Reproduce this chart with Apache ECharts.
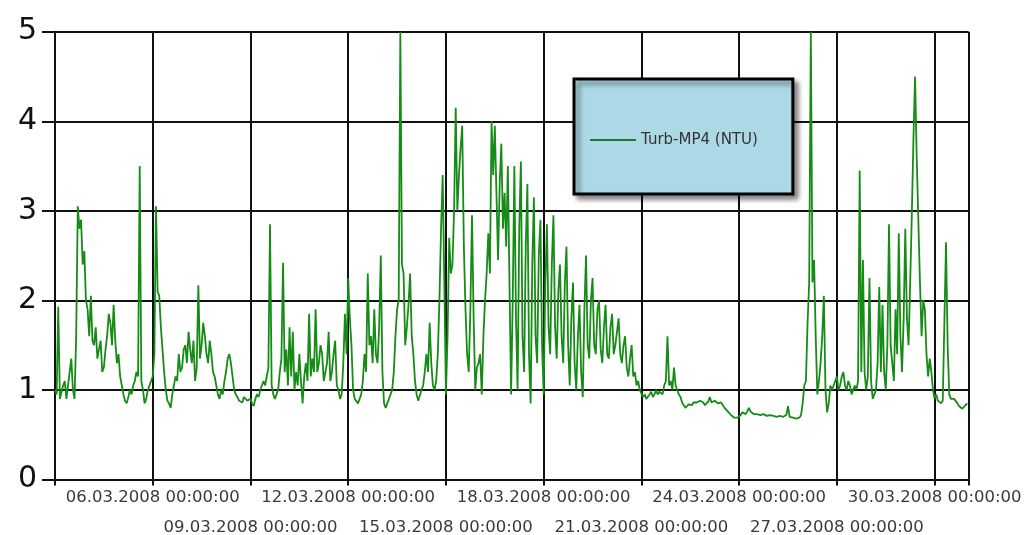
<!DOCTYPE html>
<html>
<head>
<meta charset="utf-8">
<title>Turb-MP4 (NTU)</title>
<script src="https://cdn.jsdelivr.net/npm/echarts@6/dist/echarts.min.js"></script>
<style>
  html, body { margin: 0; padding: 0; background: #ffffff; }
  #chart { width: 1025px; height: 535px; }
</style>
</head>
<body>
<div id="chart"></div>
<script>
// Turbidity at MP4, one reading every 0.05 day (1 h 12 min) starting 03.03.2008 00:00:00
const seriesName = 'Turb-MP4 (NTU)';
const stepDays = 0.05;
const turbidity = [
  1.00,0.95,1.93,0.90,0.89,1.05,1.10,0.90,0.88,1.20,1.35,1.00,0.90,1.60,3.05,2.80,2.90,2.40,2.55,2.00,   // 03.03
  1.90,1.60,2.05,1.55,1.50,1.70,1.35,1.45,1.55,1.20,1.25,1.45,1.60,1.85,1.75,1.50,1.95,1.55,1.30,1.40,   // 04.03
  1.15,1.05,0.95,0.88,0.85,0.92,1.00,0.95,1.05,1.10,1.20,1.15,3.50,1.10,1.00,0.85,0.90,1.00,1.05,1.10,   // 05.03
  1.15,1.40,3.05,2.10,2.05,1.70,1.45,1.20,1.00,0.88,0.85,0.80,0.95,1.05,1.15,1.10,1.40,1.20,1.25,1.45,   // 06.03
  1.50,1.30,1.65,1.45,1.30,1.55,1.10,1.25,2.17,1.35,1.50,1.75,1.60,1.40,1.30,1.55,1.40,1.20,1.15,1.05,   // 07.03
  0.95,0.90,1.00,0.95,1.10,1.20,1.35,1.40,1.30,1.15,1.00,0.95,0.92,0.88,0.90,0.86,0.92,0.90,0.88,0.86,   // 08.03
  0.90,0.85,0.82,0.90,0.95,0.92,1.00,1.05,1.10,1.05,1.15,1.25,2.85,1.05,0.95,0.90,0.92,1.00,1.20,1.35,   // 09.03
  2.42,1.20,1.45,1.05,1.70,1.15,1.65,1.00,1.20,1.05,1.40,1.10,0.85,1.15,1.30,1.10,1.85,1.15,1.35,1.20,   // 10.03
  1.90,1.20,1.30,1.50,1.40,1.10,1.20,1.30,1.65,1.10,1.20,1.40,1.55,1.05,1.00,0.90,0.95,1.30,1.85,1.40,   // 11.03
  2.25,1.80,1.50,1.00,0.90,0.88,0.85,0.90,0.95,1.10,1.40,1.20,2.30,1.50,1.60,1.30,1.90,1.40,1.30,1.70,   // 12.03
  2.50,1.20,0.85,0.80,0.78,0.90,0.95,1.00,1.20,1.60,1.90,2.00,5.00,2.40,2.30,1.50,1.70,1.95,2.30,1.60,   // 13.03
  1.40,1.10,0.95,0.88,0.90,1.00,1.05,1.20,1.40,1.20,1.75,1.30,1.05,1.00,1.10,1.40,2.00,2.80,3.40,2.20,   // 14.03
  0.95,1.60,2.70,2.30,2.40,3.00,4.15,3.00,3.40,3.70,3.95,2.60,1.90,1.40,1.20,1.90,2.95,1.80,1.00,1.25,   // 15.03
  1.30,1.40,0.95,1.60,2.00,2.30,2.75,2.30,4.00,3.40,3.95,3.20,2.45,3.30,3.75,2.80,3.20,2.60,3.50,2.20,   // 16.03
  0.95,2.00,3.50,1.80,1.00,2.80,3.55,1.60,1.20,2.60,3.30,1.40,0.85,2.40,3.15,1.60,1.30,2.50,2.90,1.50,   // 17.03
  0.95,2.20,2.85,1.70,1.40,2.40,2.95,1.70,1.35,2.10,2.40,1.60,1.30,2.20,2.60,1.50,1.05,1.80,2.20,1.30,   // 18.03
  1.00,1.60,1.95,1.20,0.92,1.90,2.50,1.50,1.35,2.00,2.25,1.50,1.40,1.90,2.00,1.45,1.30,1.70,1.95,1.40,   // 19.03
  1.35,1.70,1.85,1.40,1.50,1.65,1.80,1.40,1.30,1.50,1.60,1.25,1.15,1.35,1.50,1.15,1.20,1.05,1.10,1.00,   // 20.03
  1.00,0.92,0.95,0.90,0.90,0.95,0.98,0.92,0.95,1.00,0.95,0.98,1.00,0.95,1.05,1.10,1.60,1.05,1.10,1.00,   // 21.03
  1.25,1.05,1.00,0.95,0.92,0.86,0.83,0.80,0.82,0.84,0.85,0.83,0.86,0.88,0.86,0.84,0.88,0.90,0.86,0.83,   // 22.03
  0.84,0.87,0.92,0.86,0.86,0.88,0.87,0.85,0.85,0.86,0.84,0.80,0.78,0.76,0.75,0.72,0.70,0.69,0.68,0.69,   // 23.03
  0.70,0.72,0.75,0.74,0.73,0.76,0.80,0.76,0.75,0.73,0.74,0.73,0.73,0.72,0.72,0.73,0.72,0.71,0.71,0.72,   // 24.03
  0.72,0.71,0.71,0.70,0.70,0.71,0.71,0.70,0.70,0.72,0.82,0.70,0.69,0.69,0.68,0.68,0.68,0.69,0.72,0.85,   // 25.03
  1.05,1.10,1.75,2.20,5.00,2.20,2.45,1.60,0.95,1.10,1.30,1.60,2.05,1.00,0.75,0.85,1.05,1.00,1.00,1.10,   // 26.03
  1.15,1.00,1.05,1.15,1.20,1.05,1.00,1.10,1.05,0.95,0.95,1.05,1.00,1.10,3.45,1.20,2.45,1.20,1.00,1.15,   // 27.03
  2.25,1.10,0.90,0.95,1.00,1.30,2.15,1.20,1.95,1.20,1.00,1.50,2.85,1.50,1.30,1.10,1.90,1.40,2.75,1.60,   // 28.03
  1.20,1.80,2.80,1.80,1.50,2.20,2.95,3.80,4.50,3.60,2.90,2.20,1.60,2.00,1.90,1.40,1.15,1.35,1.20,1.00,   // 29.03
  0.90,0.95,0.88,0.90,0.85,0.88,0.90,2.65,1.50,0.95,0.90,0.88,0.90,0.88,0.85,0.82,0.80,0.79,0.80,0.83,   // 30.03
  0.85                                                                                                 // 31.03
];

// Time axis: days since 03.03.2008 00:00:00
const axisDays = [0, 28.04];
// Date labels sit on two staggered rows
const upperTickDays = [3, 9, 15, 21, 27];
const upperTickLabels = [
  '06.03.2008 00:00:00', '12.03.2008 00:00:00', '18.03.2008 00:00:00',
  '24.03.2008 00:00:00', '30.03.2008 00:00:00'
];
const lowerTickDays = [6, 12, 18, 24];
const lowerTickLabels = [
  '09.03.2008 00:00:00', '15.03.2008 00:00:00', '21.03.2008 00:00:00',
  '27.03.2008 00:00:00'
];
const valueRange = [0, 5];

const points = turbidity.map((v, i) => [+(i * stepDays).toFixed(2), v]);

const chart = echarts.init(document.getElementById('chart'), null, { renderer: 'canvas' });

const gridLine = { color: '#111111', width: 2 };
const lineColor = '#168c16';
const dateLabelStyle = { fontFamily: 'DejaVu Sans', fontSize: 16.5, color: '#3a3a3a', hideOverlap: false };

function labelLookup(days, labels) {
  return function (v) {
    const idx = days.indexOf(Math.round(v));
    return idx < 0 ? '' : labels[idx];
  };
}

chart.setOption({
  animation: false,
  backgroundColor: '#ffffff',
  grid: { left: 55, right: 56.5, top: 31.7, bottom: 55.5, containLabel: false, outerBoundsMode: 'none' },
  legend: {
    data: [{ name: seriesName, icon: 'rect' }],
    left: 574,
    top: 79,
    orient: 'horizontal',
    padding: [53, 35, 46, 16],
    itemWidth: 46,
    itemHeight: 2,
    backgroundColor: '#add8e6',
    borderColor: '#000000',
    borderWidth: 3,
    shadowColor: 'rgba(0,0,0,0.45)',
    shadowBlur: 5,
    shadowOffsetX: 4,
    shadowOffsetY: 4,
    itemStyle: { color: '#1f7a2f' },
    textStyle: { fontFamily: 'DejaVu Sans', fontSize: 15, color: '#333333', lineHeight: 16 }
  },
  xAxis: [{
    type: 'value',
    position: 'bottom',
    min: axisDays[0],
    max: axisDays[1],
    interval: 3,
    axisLine: { show: true, lineStyle: gridLine },
    axisTick: { show: true, length: 6, inside: false, lineStyle: gridLine },
    splitLine: { show: true, lineStyle: gridLine },
    axisLabel: Object.assign({
      customValues: upperTickDays,
      showMinLabel: true,
      showMaxLabel: true,
      margin: 10,
      formatter: labelLookup(upperTickDays, upperTickLabels)
    }, dateLabelStyle)
  }, {
    type: 'value',
    position: 'bottom',
    min: axisDays[0],
    max: axisDays[1],
    interval: 3,
    axisLine: { show: false },
    axisTick: { show: false },
    splitLine: { show: false },
    axisLabel: Object.assign({
      customValues: lowerTickDays,
      showMinLabel: true,
      showMaxLabel: true,
      margin: 40,
      formatter: labelLookup(lowerTickDays, lowerTickLabels)
    }, dateLabelStyle)
  }],
  yAxis: {
    type: 'value',
    min: valueRange[0],
    max: valueRange[1],
    interval: 1,
    axisLine: { show: true, lineStyle: gridLine },
    axisTick: { show: true, length: 13, inside: false, lineStyle: gridLine },
    splitLine: { show: true, lineStyle: gridLine },
    axisLabel: {
      margin: 18,
      fontFamily: 'DejaVu Sans',
      fontSize: 30,
      color: '#111111'
    }
  },
  series: [{
    name: seriesName,
    type: 'line',
    xAxisIndex: 0,
    data: points,
    symbol: 'none',
    showSymbol: false,
    lineStyle: { color: lineColor, width: 1.8 },
    itemStyle: { color: lineColor },
    clip: true
  }]
});
</script>
</body>
</html>
